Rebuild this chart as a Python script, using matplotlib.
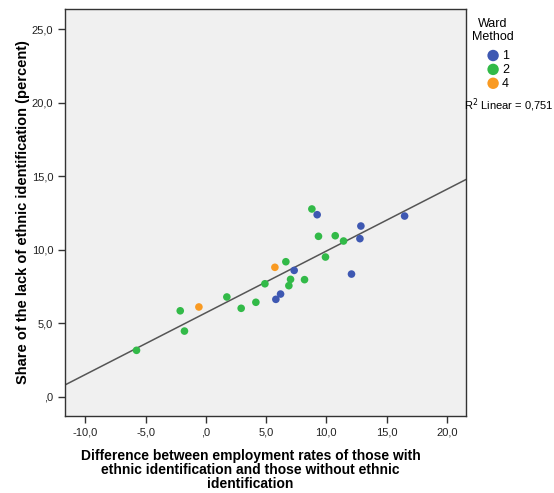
import numpy as np
import matplotlib.pyplot as plt
from matplotlib.ticker import FuncFormatter

plt.rcParams['font.family'] = ['Liberation Sans', 'DejaVu Sans']

# cluster 1 (Ward Method)
x1 = [5.81, 6.20, 7.33, 9.24, 12.09, 12.79, 12.87, 16.50]
y1 = [6.63, 6.99, 8.60, 12.39, 8.35, 10.76, 11.62, 12.30]
# cluster 2
x2 = [-5.76, -2.13, -1.78, 1.74, 2.93, 4.15, 4.90, 6.64, 7.03, 6.89, 8.19, 8.80, 9.35, 9.93, 10.74, 11.43]
y2 = [3.16, 5.85, 4.47, 6.79, 6.02, 6.43, 7.69, 9.19, 7.99, 7.56, 7.97, 12.78, 10.92, 9.51, 10.96, 10.60]
# cluster 4
x4 = [-0.58, 5.73]
y4 = [6.11, 8.81]

groups = ['1', '2', '4']
colors = ['#3E58B2', '#32BA48', '#F99A22']

xt = [-10, -5, 0, 5, 10, 15, 20]
yt = [0, 5, 10, 15, 20, 25]

def fmt(v, pos):
    s = '%.1f' % v
    s = s.replace('.', ',')
    if s.startswith('0,'):
        s = s[1:]
    if s.startswith('-0,'):
        s = s[2:]
    return s

fig = plt.figure(figsize=(5.54, 4.93), dpi=100)
ax = fig.add_axes([0.1173, 0.1562, 0.7239, 0.8255])
ax.set_facecolor('#F0F0F0')

for xs, ys, c, g in zip([x1, x2, x4], [y1, y2, y4], colors, groups):
    ax.scatter(xs, ys, s=30, color=c, edgecolors='none', label=g, zorder=3)

# linear fit over all points
allx = np.array(x1 + x2 + x4)
ally = np.array(y1 + y2 + y4)
b, a = np.polyfit(allx, ally, 1)
xl = np.array([-11.7, 21.6])
ax.plot(xl, a + b * xl, color='#555555', lw=1.1, zorder=2)

ax.set_xlim(-11.7, 21.6)
ax.set_ylim(-1.31, 26.39)
ax.set_xticks(xt)
ax.set_yticks(yt)
ax.xaxis.set_major_formatter(FuncFormatter(fmt))
ax.yaxis.set_major_formatter(FuncFormatter(fmt))
ax.tick_params(labelsize=8, length=5, width=1, color='#333333', labelcolor='#222222')
for sp in ax.spines.values():
    sp.set_color('#333333')
    sp.set_linewidth(1)

ax.set_xlabel('Difference between employment rates of those with\nethnic identification and those without ethnic\nidentification',
              fontsize=10, fontweight='bold', linespacing=1.0)
ax.xaxis.set_label_coords(0.463, -0.082, transform=ax.transAxes)
ax.xaxis.label.set_va('top')
ax.set_ylabel('Share of the lack of ethnic identification (percent)', fontsize=10.5, fontweight='bold', labelpad=1)

fig.text(0.89, 0.938, 'Ward\nMethod', fontsize=9, ha='center', va='center', multialignment='center',
         linespacing=1.05)
leg = fig.legend(loc='upper center', bbox_to_anchor=(0.893, 0.899), frameon=False,
                 fontsize=9, handletextpad=-0.3, labelspacing=0.15, markerscale=1.5,
                 borderaxespad=0.0, borderpad=0.0)
fig.text(0.838, 0.787, 'R$^2$ Linear = 0,751', fontsize=8, ha='left', va='center')

fig.savefig('out.png', dpi=100)
